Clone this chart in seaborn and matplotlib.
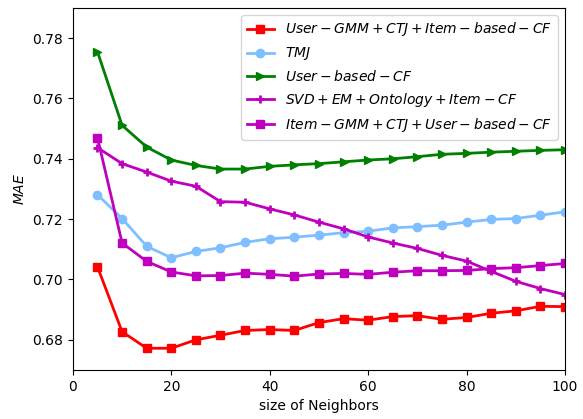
import numpy as np
import pandas as pd
import matplotlib
matplotlib.use("Agg")
import matplotlib.pyplot as plt
import seaborn as sns

neighbors = [5, 10, 15, 20, 25, 30, 35, 40, 45, 50, 55, 60, 65, 70, 75, 80, 85, 90, 95, 100]

user_gmm_ctj_item = [0.7042, 0.6827, 0.6772, 0.6772, 0.6800, 0.6815, 0.6831, 0.6834, 0.6831, 0.6857,
                     0.6870, 0.6865, 0.6877, 0.6880, 0.6868, 0.6874, 0.6888, 0.6896, 0.6911, 0.6910]
tmj = [0.7281, 0.7202, 0.7110, 0.7072, 0.7093, 0.7105, 0.7123, 0.7135, 0.7140, 0.7147,
       0.7155, 0.7160, 0.7171, 0.7175, 0.7180, 0.7190, 0.7199, 0.7202, 0.7213, 0.7224]
user_based_cf = [0.7755, 0.7511, 0.7439, 0.7396, 0.7378, 0.7366, 0.7366, 0.7375, 0.7380, 0.7384,
                 0.7390, 0.7396, 0.7400, 0.7407, 0.7415, 0.7418, 0.7422, 0.7425, 0.7428, 0.7430]
svd_em_ontology = [0.7437, 0.7384, 0.7356, 0.7326, 0.7309, 0.7258, 0.7256, 0.7234, 0.7214, 0.7190,
                   0.7168, 0.7141, 0.7121, 0.7103, 0.7080, 0.7061, 0.7027, 0.6994, 0.6970, 0.6950]
item_gmm_ctj_user = [0.7470, 0.7121, 0.7060, 0.7025, 0.7012, 0.7013, 0.7021, 0.7017, 0.7011, 0.7018,
                     0.7020, 0.7017, 0.7024, 0.7029, 0.7029, 0.7030, 0.7036, 0.7039, 0.7046, 0.7053]

labels = [
    r"$User-GMM+CTJ+Item-based-CF$",
    r"$TMJ$",
    r"$User-based-CF$",
    r"$SVD+EM+Ontology+Item-CF$",
    r"$Item-GMM+CTJ+User-based-CF$",
]
series = [user_gmm_ctj_item, tmj, user_based_cf, svd_em_ontology, item_gmm_ctj_user]
colors = ["#FF0000", "#7FBFFF", "#008000", "#BF00BF", "#BF00BF"]
markers = ["s", "o", ">", "+", "s"]

fig, ax = plt.subplots(figsize=(5.83, 4.19), dpi=100)
fig.subplots_adjust(left=0.125, right=0.969, top=0.981, bottom=0.117)

for lab, vals, col, mk in zip(labels, series, colors, markers):
    df = pd.DataFrame({"k": neighbors, "mae": vals})
    sns.lineplot(data=df, x="k", y="mae", ax=ax, color=col, marker=mk,
                 markersize=6, linewidth=2, label=lab,
                 markeredgecolor=col, markeredgewidth=2 if mk == "+" else 1)

ax.set_xlim(0, 100)
ax.set_ylim(0.670, 0.790)
ax.set_yticks([0.68, 0.70, 0.72, 0.74, 0.76, 0.78])
ax.set_xticks([0, 20, 40, 60, 80, 100])
ax.set_xlabel("size of Neighbors")
ax.set_ylabel(r"$MAE$")
ax.legend(loc="upper right")

fig.savefig("out.png", dpi=100)
